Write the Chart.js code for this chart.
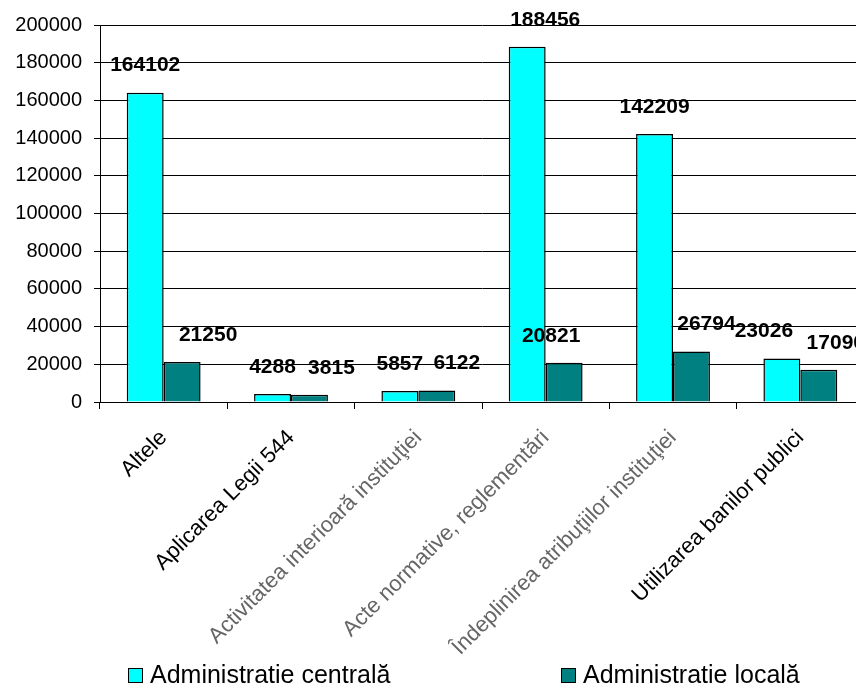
<!DOCTYPE html>
<html>
<head>
<meta charset="utf-8">
<script src="https://cdn.jsdelivr.net/npm/chart.js@4.4.0/dist/chart.umd.min.js"></script>
<style>
  body { margin: 0; background: #fff; overflow: hidden; }
  #wrap { width: 856px; height: 687px; overflow: hidden; }
</style>
</head>
<body>
<div id="wrap"><canvas id="plangeriChart" width="866" height="687"></canvas></div>
<script>
// categorii si valori
const categories = [
    'Altele',
    'Aplicarea Legii 544',
    'Activitatea interioară instituţiei',
    'Acte normative, reglementări',
    'Îndeplinirea atribuţiilor instituţiei',
    'Utilizarea banilor publici'
];
const seriesNames = ['Administratie centrală', 'Administratie locală'];
const centralValues = [164102, 4288, 5857, 188456, 142209, 23026];
const localValues = [21250, 3815, 6122, 20821, 26794, 17090];
const yMin = 0;
const yMax = 200000;
const yStep = 20000;

const FONT = "'Liberation Sans', Arial, sans-serif";
const colors = ['#00FFFF', '#008080'];

// mici deplasari ale etichetelor (ca in original)
const labelNudge = [
    [0, 0, 0, 18, 0, -18],
    [26, 22, 20, -13, 15, 17]
];

const valueLabels = {
    id: 'valueLabels',
    afterDatasetsDraw(chart) {
        const c = chart.ctx;
        c.save();
        c.font = 'bold 21px ' + FONT;
        c.fillStyle = '#000';
        c.textAlign = 'center';
        c.textBaseline = 'middle';
        chart.data.datasets.forEach((ds, di) => {
            chart.getDatasetMeta(di).data.forEach((bar, i) => {
                c.fillText(String(ds.data[i]), bar.x + labelNudge[di][i], bar.y - 27);
            });
        });
        c.restore();
    }
};

const bottomLegend = {
    id: 'bottomLegend',
    afterDraw(chart) {
        const c = chart.ctx;
        const xs = [128, 561];
        c.save();
        c.font = '25px ' + FONT;
        c.textBaseline = 'alphabetic';
        c.textAlign = 'left';
        chart.data.datasets.forEach((ds, di) => {
            c.fillStyle = ds.backgroundColor;
            c.fillRect(xs[di], 668, 14, 14);
            c.strokeStyle = '#000';
            c.lineWidth = 1;
            c.strokeRect(xs[di] + 0.5, 668.5, 14, 14);
            c.fillStyle = '#000';
            c.fillText(ds.label, xs[di] + 22, 683);
        });
        c.restore();
    }
};

const ctx = document.getElementById('plangeriChart').getContext('2d');
const chart = new Chart(ctx, {
    type: 'bar',
    data: {
        labels: categories,
        datasets: [{
            label: seriesNames[0],
            data: centralValues,
            backgroundColor: colors[0],
            borderColor: '#000',
            borderWidth: 1.5,
            categoryPercentage: 0.58,
            barPercentage: 1.0
        }, {
            label: seriesNames[1],
            data: localValues,
            backgroundColor: colors[1],
            borderColor: '#000',
            borderWidth: 1.5,
            categoryPercentage: 0.58,
            barPercentage: 1.0
        }]
    },
    options: {
        responsive: false,
        animation: false,
        layout: { padding: { top: 25, right: 2, left: 0, bottom: 0 } },
        plugins: {
            legend: { display: false },
            tooltip: { enabled: false }
        },
        scales: {
            x: {
                grid: { offset: true, drawOnChartArea: false, drawTicks: true, tickLength: 7, color: '#000' },
                border: { color: '#000', width: 1 },
                ticks: {
                    minRotation: 45,
                    maxRotation: 45,
                    autoSkip: false,
                    padding: 16,
                    color: (c) => (c.index >= 2 && c.index <= 4) ? '#666' : '#000',
                    font: { family: FONT, size: 22 }
                },
                afterFit: (scale) => { scale.height = 285; }
            },
            y: {
                min: yMin,
                max: yMax,
                ticks: {
                    stepSize: yStep,
                    padding: 12,
                    color: '#000',
                    font: { family: FONT, size: 20 },
                    callback: (v) => String(v)
                },
                grid: { color: '#000', lineWidth: 1, tickLength: 6 },
                border: { color: '#000', width: 1 },
                afterFit: (scale) => { scale.width = 100; }
            }
        }
    },
    plugins: [valueLabels, bottomLegend]
});
</script>
</body>
</html>
